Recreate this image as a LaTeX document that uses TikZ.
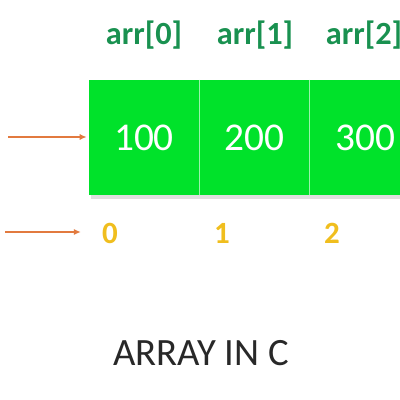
\documentclass[tikz,border=0pt]{standalone}
\usepackage{fontspec}
\setmainfont{Carlito}
\usetikzlibrary{positioning, arrows.meta}

\definecolor{cellgreen}{RGB}{0,226,42}
\definecolor{labelgreen}{RGB}{25,145,80}
\definecolor{indexgold}{RGB}{240,190,30}
\definecolor{arroworange}{RGB}{226,122,63}
\definecolor{titlegray}{RGB}{40,40,40}

\tikzset{
  cell/.style={fill=cellgreen, text=white, minimum width=27.5mm, minimum height=28.75mm,
    inner sep=0pt, font=\fontsize{28}{32}\selectfont},
  arrlabel/.style={text=labelgreen, font=\fontsize{23}{26}\selectfont\bfseries},
  idx/.style={text=indexgold, font=\fontsize{22}{26}\selectfont\bfseries, inner sep=0pt},
  pointer/.style={-{Latex[length=5pt, width=4.5pt]}, arroworange, line width=0.9pt}
}

\begin{document}
\begin{tikzpicture}[x=0.25mm, y=-0.25mm]
    \useasboundingbox (0,0) rectangle (400,400);
    \clip (0,0) rectangle (400,400);

    % shadow under the cells
    \fill[black!25, opacity=0.5] (91,190) rectangle (425,199);

    % the array cells
    \node[cell] (c0) at (144,137.5) {100};
    \node[cell, right=0pt of c0] (c1) {200};
    \node[cell, right=0pt of c1] (c2) {300};
    \draw[white!60!cellgreen, line width=0.6pt] (c0.north east) -- (c0.south east);
    \draw[white!60!cellgreen, line width=0.6pt] (c1.north east) -- (c1.south east);

    % element names
    \node[arrlabel] (l0) at (144,35) {arr[0]};
    \node[arrlabel] (l1) at (255,35) {arr[1]};
    \node[arrlabel] (l2) at (364,35) {arr[2]};

    % indices
    \node[idx] (i0) at (110,233) {0};
    \node[idx] (i1) at (222,233) {1};
    \node[idx] (i2) at (332,233) {2};

    % pointers
    \coordinate (p0) at (8,137);
    \coordinate (p1) at (5,232);
    \draw[pointer] (p0) -- ([xshift=-1.5pt]c0.west |- p0);
    \draw[pointer] (p1) -- ([xshift=-15pt]i0.west |- p1);

    \node[text=titlegray, font=\fontsize{27.5}{32}\selectfont] (title) at (201,353) {ARRAY IN C};
\end{tikzpicture}
\end{document}
